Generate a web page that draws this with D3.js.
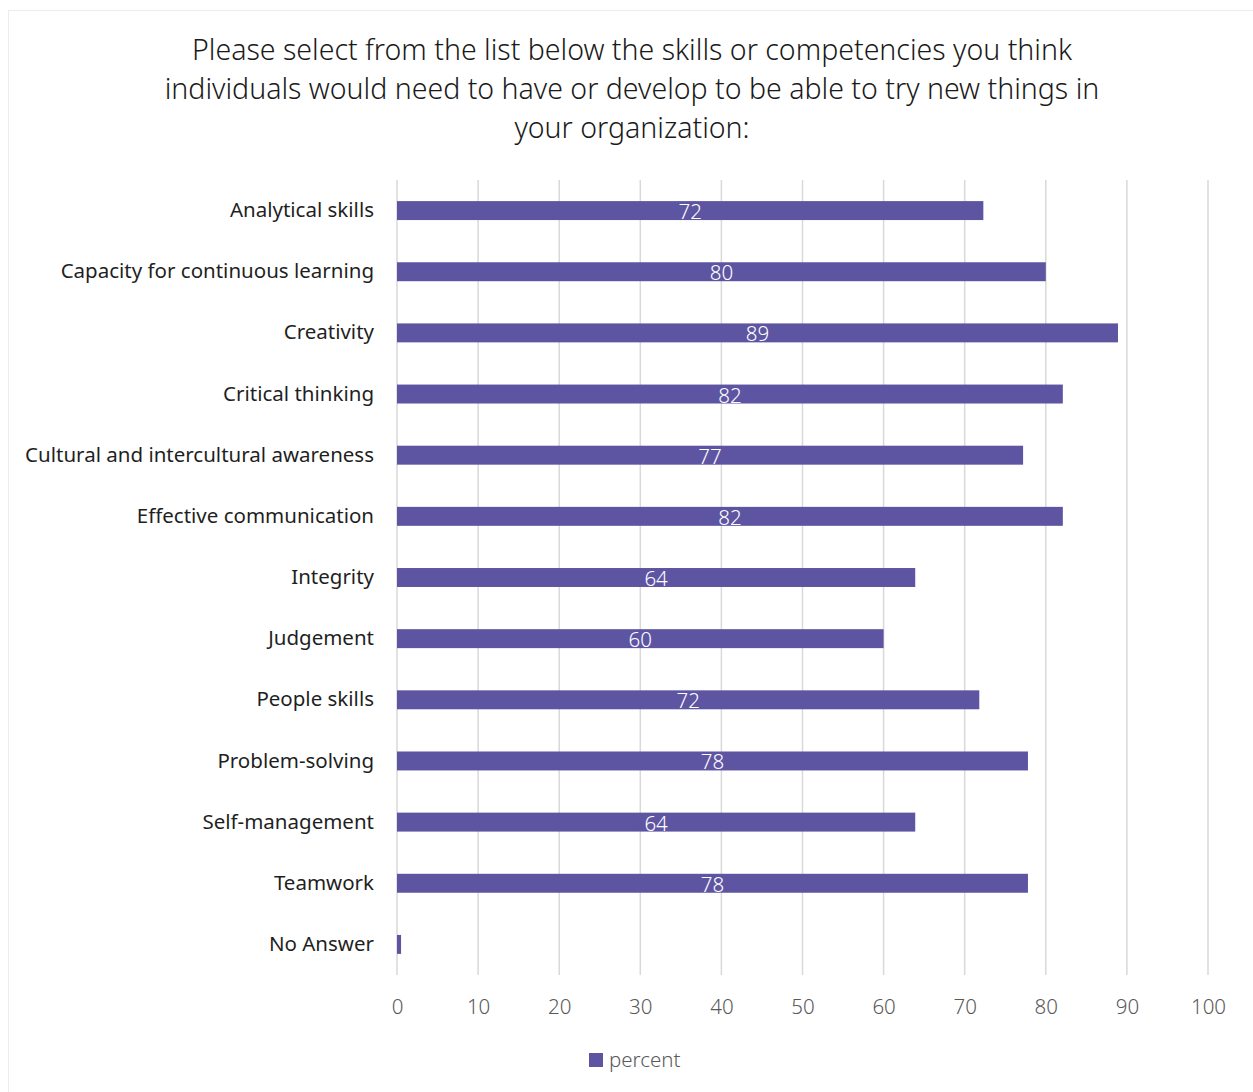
<!DOCTYPE html>
<html>
<head>
<meta charset="utf-8">
<script src="https://cdn.jsdelivr.net/npm/d3@7"></script>
<style>
  body { margin: 0; background: #fff; }
  svg { display: block; font-family: "Noto Sans", "Open Sans", sans-serif; }
</style>
</head>
<body>
<div id="chart"></div>
<script>
const skills = [
    'Analytical skills',
    'Capacity for continuous learning',
    'Creativity',
    'Critical thinking',
    'Cultural and intercultural awareness',
    'Effective communication',
    'Integrity',
    'Judgement',
    'People skills',
    'Problem-solving',
    'Self-management',
    'Teamwork',
    'No Answer',
];
const percent = [72.3, 80.0, 88.9, 82.1, 77.2, 82.1, 63.9, 60.0, 71.8, 77.8, 63.9, 77.8, 0.5];
const xTicks = [0, 10, 20, 30, 40, 50, 60, 70, 80, 90, 100];
const titleLines = [
    'Please select from the list below the skills or competencies you think',
    'individuals would need to have or develop to be able to try new things in',
    'your organization:',
];
const seriesName = 'percent';

const width = 1253;
const height = 1092;
const margin = { top: 180, right: 45, bottom: 117, left: 397 };
const innerW = width - margin.left - margin.right;
const innerH = height - margin.top - margin.bottom;
const barColor = '#5e55a2';

const data = skills.map((s, i) => ({ skill: s, value: percent[i] }));

const svg = d3
    .select('#chart')
    .append('svg')
    .attr('width', width)
    .attr('height', height);

// chart area frame
svg.append('rect')
    .attr('x', 8.5)
    .attr('y', 10.5)
    .attr('width', width)
    .attr('height', height)
    .attr('fill', 'none')
    .attr('stroke', '#ececec');

svg.append('g')
    .selectAll('text')
    .data(titleLines)
    .join('text')
    .attr('x', 632)
    .attr('y', (_, i) => 60 + i * 39)
    .attr('text-anchor', 'middle')
    .attr('font-size', '28.5px')
    .attr('font-weight', 300)
    .attr('fill', '#1a1a1a')
    .text((d) => d);

const x = d3.scaleLinear().domain([0, 100]).range([0, innerW]);
const y = d3
    .scaleBand()
    .domain(skills)
    .range([0, innerH])
    .paddingInner(0.69)
    .paddingOuter(0.345);

const g = svg
    .append('g')
    .attr('transform', `translate(${margin.left}, ${margin.top})`);

// vertical gridlines
g.append('g')
    .selectAll('line')
    .data(xTicks)
    .join('line')
    .attr('x1', (d) => x(d))
    .attr('x2', (d) => x(d))
    .attr('y1', 0)
    .attr('y2', innerH)
    .attr('stroke', '#d9d9d9')
    .attr('stroke-width', 1.5);

// x axis labels
const xAxis = g
    .append('g')
    .attr('transform', `translate(0, ${innerH})`)
    .call(d3.axisBottom(x).tickValues(xTicks).tickSize(0).tickPadding(24));
xAxis.select('.domain').remove();
xAxis
    .selectAll('text')
    .attr('font-family', '"Noto Sans", sans-serif')
    .attr('font-size', '20.5px')
    .attr('font-weight', 300)
    .attr('fill', '#595959');

// category labels
const yAxis = g
    .append('g')
    .call(d3.axisLeft(y).tickSize(0).tickPadding(23));
yAxis.select('.domain').remove();
yAxis
    .selectAll('text')
    .attr('font-family', '"Noto Sans", sans-serif')
    .attr('font-size', '20.5px')
    .attr('fill', '#1f1f1f');

g.append('g')
    .selectAll('rect')
    .data(data)
    .join('rect')
    .attr('x', 0)
    .attr('y', (d) => y(d.skill))
    .attr('width', (d) => x(d.value))
    .attr('height', y.bandwidth())
    .attr('fill', barColor);

g.append('g')
    .selectAll('text')
    .data(data.filter((d) => d.value >= 1))
    .join('text')
    .attr('x', (d) => x(d.value) / 2)
    .attr('y', (d) => y(d.skill) + y.bandwidth() / 2 + 8.5)
    .attr('text-anchor', 'middle')
    .attr('font-size', '20.5px')
    .attr('font-weight', 300)
    .attr('fill', '#ffffff')
    .text((d) => d3.format('.0f')(d.value));

// legend
const legend = svg.append('g').attr('transform', 'translate(589, 1053)');
legend
    .append('rect')
    .attr('width', 14)
    .attr('height', 14)
    .attr('fill', barColor);
legend
    .append('text')
    .attr('x', 20)
    .attr('y', 14)
    .attr('font-size', '20.5px')
    .attr('font-weight', 300)
    .attr('fill', '#595959')
    .text(seriesName);
</script>
</body>
</html>
